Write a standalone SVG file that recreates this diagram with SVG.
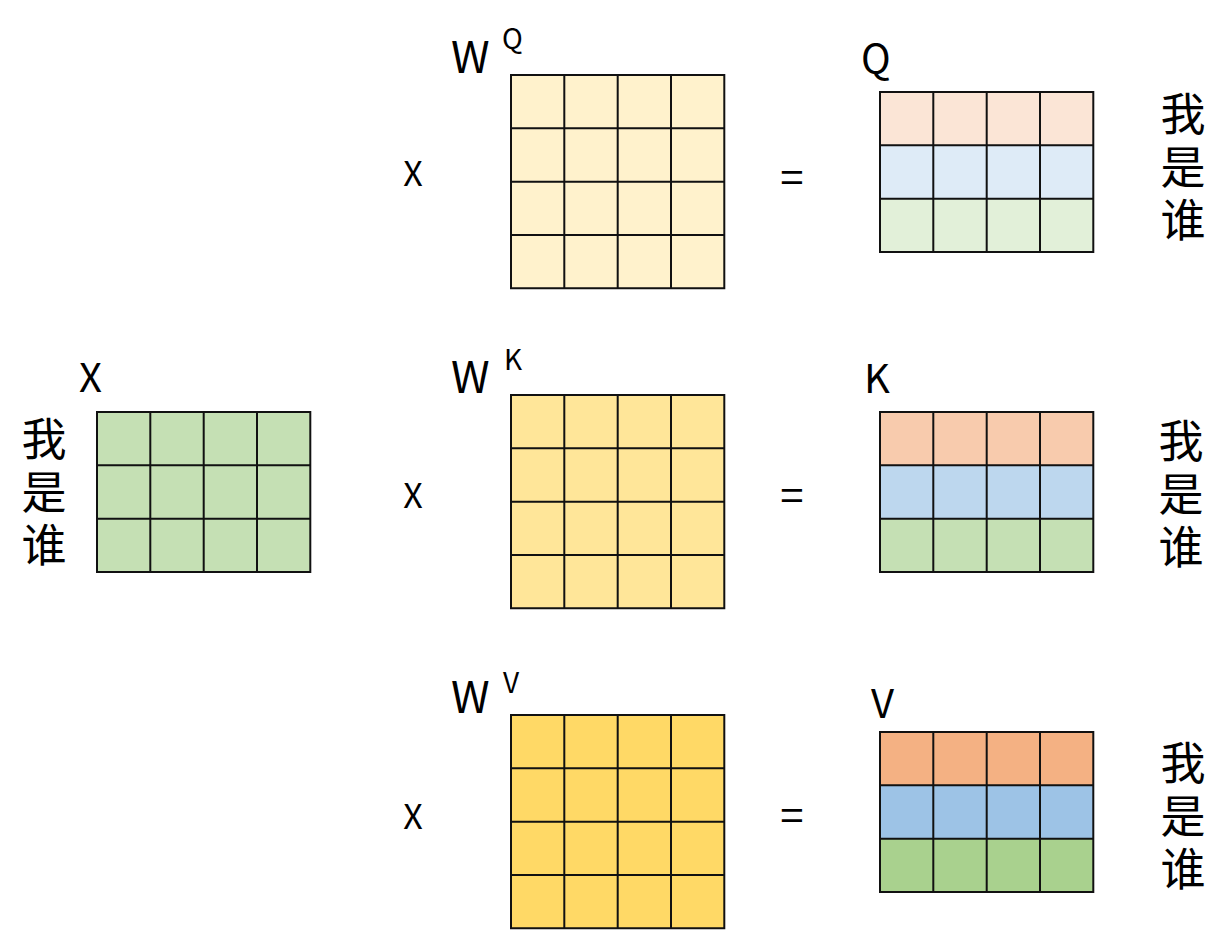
<svg xmlns="http://www.w3.org/2000/svg" width="1224" height="952" viewBox="0 0 1224 952">
<style>
.g{fill:none;stroke:#111;stroke-width:2}
.t{font-family:"Noto Sans CJK SC","Liberation Sans",sans-serif;fill:#000}
.big{font-size:40px}
.w{font-size:44px}
.sup{font-size:28px}
.op{font-size:34px;text-anchor:middle}
.eq{font-size:42px;text-anchor:middle}
.cj{font-size:45px;writing-mode:vertical-rl;letter-spacing:8px}
</style>
<defs>
<path id="grid44" class="g" d="M0,0H213.3V213.3H0Z M53.3,0V213.3 M106.7,0V213.3 M160,0V213.3 M0,53.3H213.3 M0,106.7H213.3 M0,160H213.3"/>
<path id="grid34" class="g" d="M0,0H213.3V160H0Z M53.3,0V160 M106.7,0V160 M160,0V160 M0,53.3H213.3 M0,106.7H213.3"/>
</defs>
<rect width="1224" height="952" fill="#fff"/>

<g id="X">
<rect x="97" y="412" width="213.3" height="160" fill="#C5E0B4"/>
<use href="#grid34" x="97" y="412"/>
<text class="t big" x="79" y="392">X</text>
<text class="t cj" x="44" y="416">我是谁</text>
</g>

<g id="WQ">
<rect x="511" y="75" width="213.3" height="213.3" fill="#FFF2CC"/>
<use href="#grid44" x="511" y="75"/>
<text class="t w" x="451" y="73">W</text>
<text class="t sup" x="502" y="49">Q</text>
</g>
<g id="WK">
<rect x="511" y="395" width="213.3" height="213.3" fill="#FFE699"/>
<use href="#grid44" x="511" y="395"/>
<text class="t w" x="451" y="393">W</text>
<text class="t sup" x="504" y="370">K</text>
</g>
<g id="WV">
<rect x="511" y="715" width="213.3" height="213.3" fill="#FFD966"/>
<use href="#grid44" x="511" y="715"/>
<text class="t w" x="451" y="713">W</text>
<text class="t sup" x="503" y="693">V</text>
</g>

<g id="ops">
<text class="t op" x="413" y="186">X</text>
<text class="t op" x="413" y="508">X</text>
<text class="t op" x="413" y="829">X</text>
<text class="t eq" x="792" y="193">=</text>
<text class="t eq" x="792" y="511">=</text>
<text class="t eq" x="792" y="831">=</text>
</g>

<g id="Q">
<rect x="880" y="92" width="213.3" height="53.3" fill="#FBE5D6"/>
<rect x="880" y="145.3" width="213.3" height="53.3" fill="#DEEBF7"/>
<rect x="880" y="198.7" width="213.3" height="53.3" fill="#E2F0D9"/>
<use href="#grid34" x="880" y="92"/>
<text class="t big" x="861" y="73">Q</text>
<text class="t cj" x="1183" y="91">我是谁</text>
</g>
<g id="K">
<rect x="880" y="412" width="213.3" height="53.3" fill="#F8CBAD"/>
<rect x="880" y="465.3" width="213.3" height="53.3" fill="#BDD7EE"/>
<rect x="880" y="518.7" width="213.3" height="53.3" fill="#C5E0B4"/>
<use href="#grid34" x="880" y="412"/>
<text class="t big" x="864" y="393">K</text>
<text class="t cj" x="1181" y="418">我是谁</text>
</g>
<g id="V">
<rect x="880" y="732" width="213.3" height="53.3" fill="#F4B183"/>
<rect x="880" y="785.3" width="213.3" height="53.3" fill="#9DC3E6"/>
<rect x="880" y="838.7" width="213.3" height="53.3" fill="#A9D18E"/>
<use href="#grid34" x="880" y="732"/>
<text class="t big" x="871" y="718">V</text>
<text class="t cj" x="1183" y="740">我是谁</text>
</g>
<g id="connectors"></g>
</svg>
